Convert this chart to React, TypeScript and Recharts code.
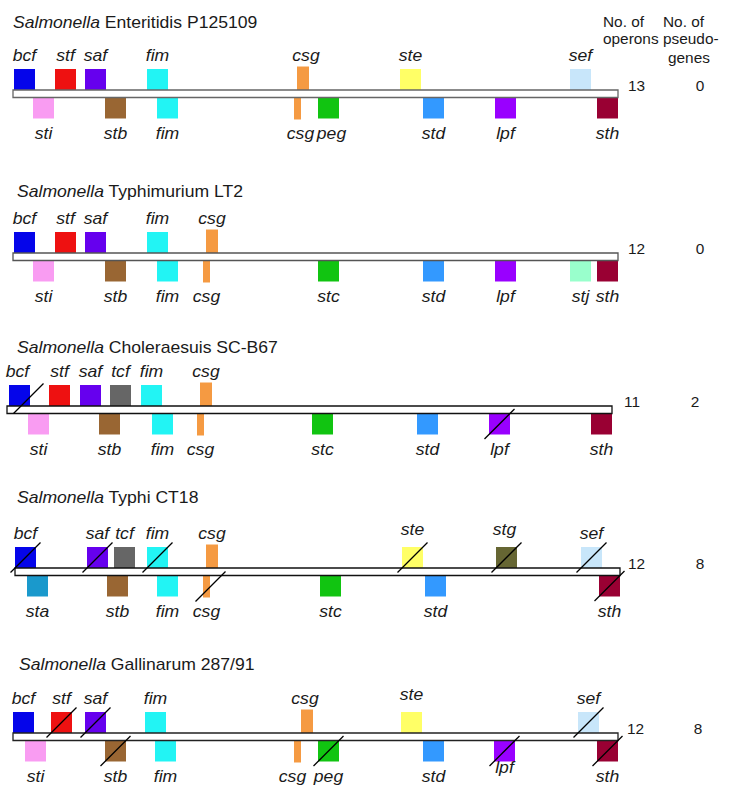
import React from "react";
import { ScatterChart, Scatter, XAxis, YAxis, ReferenceArea, ReferenceLine } from "recharts";

// ---------------- DATA ----------------
const STRAINS = ["Enteritidis P125109", "Typhimurium LT2", "Choleraesuis SC-B67", "Typhi CT18", "Gallinarum 287/91"];
const OPERON_COUNTS = [13, 12, 11, 12, 12];
const PSEUDOGENE_COUNTS = [0, 0, 2, 8, 8];
// chromosome span in map units
const CHROMOSOME_START = [13, 13, 7, 15, 13];
const CHROMOSOME_END = [618, 618, 612, 620, 618];

// [operon, map position (left edge), pseudogene?]
type Op = [string, number, boolean?];
const enteritidisUpper: Op[] = [["bcf", 14], ["stf", 55], ["saf", 85], ["fim", 147], ["csg", 297], ["ste", 400], ["sef", 570]];
const enteritidisLower: Op[] = [["sti", 33], ["stb", 105], ["fim", 157], ["csg", 294], ["peg", 318], ["std", 423], ["lpf", 495], ["sth", 597]];
const typhimuriumUpper: Op[] = [["bcf", 14], ["stf", 55], ["saf", 85], ["fim", 147], ["csg", 206]];
const typhimuriumLower: Op[] = [["sti", 33], ["stb", 105], ["fim", 157], ["csg", 203], ["stc", 318], ["std", 423], ["lpf", 495], ["stj", 570], ["sth", 597]];
const choleraesuisUpper: Op[] = [["bcf", 9, true], ["stf", 49], ["saf", 80], ["tcf", 110], ["fim", 141], ["csg", 200]];
const choleraesuisLower: Op[] = [["sti", 28], ["stb", 99], ["fim", 152], ["csg", 197], ["stc", 312], ["std", 417], ["lpf", 489, true], ["sth", 591]];
const typhiUpper: Op[] = [["bcf", 15, true], ["saf", 87, true], ["tcf", 114], ["fim", 147, true], ["csg", 206], ["ste", 402, true], ["stg", 496, true], ["sef", 581, true]];
const typhiLower: Op[] = [["sta", 27], ["stb", 107], ["fim", 157], ["csg", 203, true], ["stc", 320], ["std", 425], ["sth", 599, true]];
const gallinarumUpper: Op[] = [["bcf", 13], ["stf", 51, true], ["saf", 85, true], ["fim", 145], ["csg", 301], ["ste", 401], ["sef", 578, true]];
const gallinarumLower: Op[] = [["sti", 25], ["stb", 105, true], ["fim", 155], ["csg", 294], ["peg", 318, true], ["std", 423], ["lpf", 494, true], ["sth", 597, true]];

const UPPER = [enteritidisUpper, typhimuriumUpper, choleraesuisUpper, typhiUpper, gallinarumUpper];
const LOWER = [enteritidisLower, typhimuriumLower, choleraesuisLower, typhiLower, gallinarumLower];

// ---------------- LAYOUT / STYLE ----------------
const W = 731;
const H = 798;
const ROW_TOP = [90, 253, 406, 568, 733];
const TITLE_Y = [28, 197, 353, 503, 670];
const TITLE_X = [13, 17, 17, 17, 19];
const COUNT_X = [628, 628, 624, 628, 627];
const PSEUDO_X = [700, 700, 695, 700, 698];
const BAR_STROKE = ["#666", "#555", "#111", "#111", "#222"];
const BAR_H = 7.5;
const BOX = 21;
const FONT = "'Liberation Sans', Arial, sans-serif";
const INK = "#1a1a1a";

// label nudges (layout), keyed "row:side:operon"
const LABEL_NUDGE: Record<string, [number, number]> = {
  "0:u:csg": [3, 0],
  "0:l:csg": [3, 0],
  "0:l:peg": [3, 0],
  "2:u:bcf": [-2, 0],
  "3:u:ste": [0, -4],
  "3:u:stg": [-2, -4],
  "4:u:ste": [0, -4],
  "4:u:csg": [-2, 0],
  "4:l:csg": [-5, 0],
  "4:l:lpf": [0, -9],
};
const STRIKE_NUDGE: Record<string, [number, number]> = {
  "2:u:bcf": [9, 3],
  "3:l:csg": [4, 0],
};

const COLORS: Record<string, string> = {
  bcf: "#0505ea", stf: "#ee1111", saf: "#6600ee", fim: "#22f4f4", csg: "#f59a42",
  ste: "#ffff66", sef: "#c8e6fa", sti: "#f99cf2", stb: "#996633", peg: "#11c411",
  stc: "#11c411", std: "#3399ff", lpf: "#9900ff", sth: "#990033", stj: "#99ffcc",
  tcf: "#666666", sta: "#1a99cc", stg: "#666633",
};

type Box = { x1: number; x2: number; y1: number; y2: number; fill: string; pseudo: boolean; key: string };

const boxes: Box[] = [];
const texts: any[] = [];

STRAINS.forEach((s, i) => {
  const top = ROW_TOP[i];
  const bottom = top + BAR_H;
  UPPER[i].forEach(([g, at, p]) => {
    const narrow = g === "csg";
    const w = narrow ? 12 : BOX;
    const h = narrow ? 23.5 : BOX;
    const key = `${i}:u:${g}`;
    boxes.push({ x1: at, x2: at + w, y1: top - h, y2: top, fill: COLORS[g], pseudo: !!p, key });
    const [dx, dy] = LABEL_NUDGE[key] || [0, 0];
    texts.push({ x: at + w / 2 + dx, y: top - 29 + dy, text: g, kind: "gene" });
  });
  LOWER[i].forEach(([g, at, p]) => {
    const narrow = g === "csg";
    const w = narrow ? 7 : BOX;
    const h = narrow ? 22 : BOX;
    const key = `${i}:l:${g}`;
    boxes.push({ x1: at, x2: at + w, y1: bottom, y2: bottom + h, fill: COLORS[g], pseudo: !!p, key });
    const [dx, dy] = LABEL_NUDGE[key] || [0, 0];
    texts.push({ x: at + w / 2 + dx, y: top + 49 + dy, text: g, kind: "gene" });
  });
  texts.push({ x: TITLE_X[i], y: TITLE_Y[i], text: s, kind: "title" });
  texts.push({ x: COUNT_X[i], y: top + 1, text: String(OPERON_COUNTS[i]), kind: "count" });
  texts.push({ x: PSEUDO_X[i], y: top + 1, text: String(PSEUDOGENE_COUNTS[i]), kind: "pcount" });
});

texts.push({ x: 603, y: 27, text: "No. of", kind: "head" });
texts.push({ x: 603, y: 44, text: "operons", kind: "head" });
texts.push({ x: 663, y: 27, text: "No. of", kind: "head" });
texts.push({ x: 663, y: 44, text: "pseudo-", kind: "head" });
texts.push({ x: 668, y: 63, text: "genes", kind: "head" });

const renderText = (p: any) => {
  const d = p.payload;
  const t = `translate(${p.cx},${p.cy}) scale(1.1,1)`;
  if (d.kind === "title") {
    return (
      <text transform={t} x={0} y={0} fontSize={16} fontFamily={FONT} fill={INK}>
        <tspan fontStyle="italic">Salmonella</tspan>
        <tspan>{" " + d.text}</tspan>
      </text>
    );
  }
  if (d.kind === "gene") {
    return (
      <text transform={t} x={0} y={0} fontSize={16} fontFamily={FONT} fontStyle="italic" textAnchor="middle" fill={INK}>
        {d.text}
      </text>
    );
  }
  return (
    <text transform={t} x={0} y={0} fontSize={14} fontFamily={FONT} textAnchor={d.kind === "pcount" ? "middle" : "start"} fill={INK}>
      {d.text}
    </text>
  );
};

export default function App() {
  return (
    <div style={{ position: "absolute", left: 0, top: 0, width: W, height: H, background: "#fff" }}>
      <ScatterChart width={W} height={H} margin={{ top: 0, right: 0, bottom: 0, left: 0 }}>
        <XAxis type="number" dataKey="x" domain={[0, W]} hide allowDataOverflow />
        <YAxis type="number" dataKey="y" domain={[0, H]} reversed hide allowDataOverflow />
        {boxes.map((b, k) => (
          <ReferenceArea key={"b" + k} x1={b.x1} x2={b.x2} y1={b.y1} y2={b.y2} fill={b.fill} fillOpacity={1} stroke="none" ifOverflow="visible" />
        ))}
        {STRAINS.map((s, i) => (
          <ReferenceArea key={"c" + i} x1={CHROMOSOME_START[i]} x2={CHROMOSOME_END[i]} y1={ROW_TOP[i]} y2={ROW_TOP[i] + BAR_H} fill="#fff" fillOpacity={1} stroke={BAR_STROKE[i]} strokeWidth={1.3} ifOverflow="visible" />
        ))}
        {boxes.filter((b) => b.pseudo).map((b, k) => {
          const [dx, dy] = STRIKE_NUDGE[b.key] || [0, 0];
          const cx = (b.x1 + b.x2) / 2 + dx;
          const cy = (b.y1 + b.y2) / 2 + dy;
          return (
            <ReferenceLine key={"s" + k} segment={[{ x: cx - 15, y: cy + 15 }, { x: cx + 15, y: cy - 15 }]} stroke="#000" strokeWidth={1.3} ifOverflow="visible" />
          );
        })}
        <Scatter data={texts} shape={renderText} isAnimationActive={false} />
      </ScatterChart>
    </div>
  );
}
